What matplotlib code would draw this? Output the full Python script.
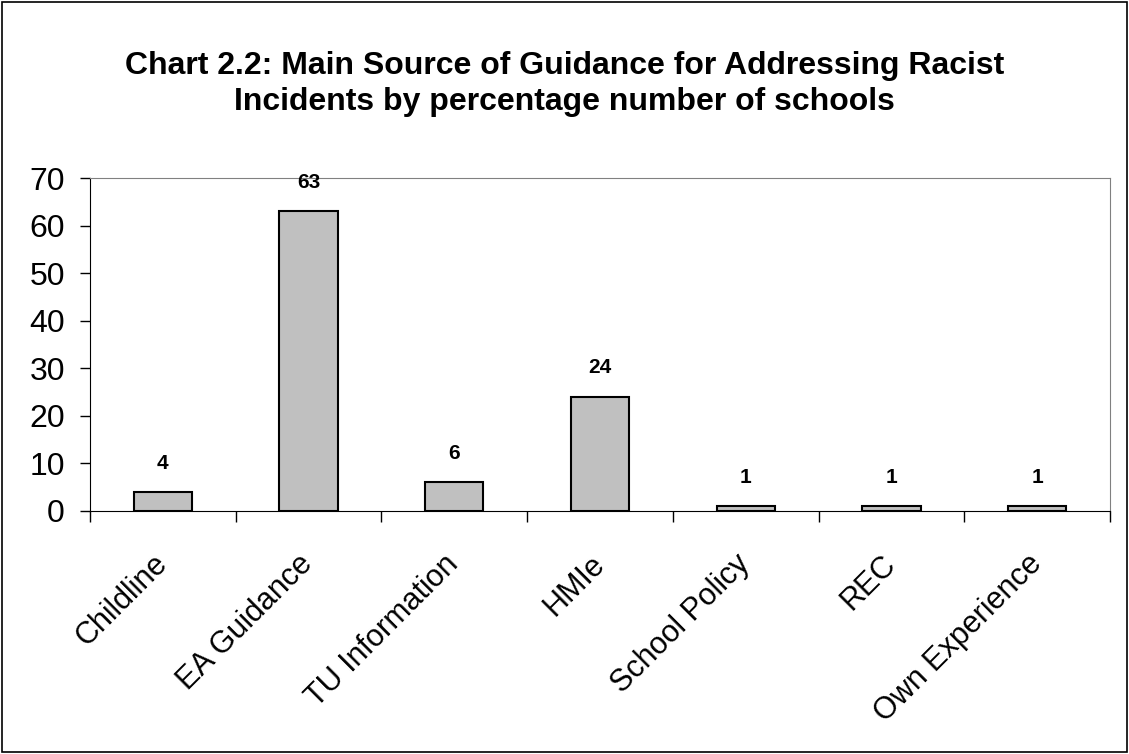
import matplotlib
matplotlib.use("Agg")
import numpy as np
import matplotlib.pyplot as plt
from matplotlib.patches import Rectangle

categories = ["Childline", "EA Guidance", "TU Information", "HMIe",
              "School Policy", "REC", "Own Experience"]
values = [4, 63, 6, 24, 1, 1, 1]
yticks = [0, 10, 20, 30, 40, 50, 60, 70]

plt.rcParams["font.family"] = ["Liberation Sans", "DejaVu Sans"]

fig = plt.figure(figsize=(11.29, 7.54), dpi=100)
fig.patches.append(Rectangle((0.002, 0.002), 0.996, 0.995, transform=fig.transFigure,
                             fill=False, edgecolor="black", linewidth=1.2))
ax = fig.add_axes([90 / 1129, 1 - 511 / 754, 1020 / 1129, 333 / 754])

x = np.arange(len(categories))
ax.bar(x, values, width=0.4, color="#c0c0c0", edgecolor="black", linewidth=1.5)
for xi, v in zip(x, values):
    ax.annotate(str(v), (xi, v), xytext=(0, 14), textcoords="offset points",
                ha="center", va="bottom", fontsize=15, fontweight="bold")

ax.set_xlim(-0.5, len(categories) - 0.5)
ax.set_ylim(0, 70)
ax.set_yticks(yticks)
ax.tick_params(axis="y", labelsize=23, length=7, width=1, direction="out", pad=11)
ax.set_xticks(np.arange(len(categories) + 1) - 0.5, minor=False)
ax.set_xticklabels([])
ax.set_xticks(x, minor=True)
ax.set_xticklabels(categories, minor=True, rotation=45, ha="right", va="center",
                   rotation_mode="anchor", fontsize=22)
ax.tick_params(axis="x", which="major", length=8, width=1)
ax.tick_params(axis="x", which="minor", length=0, pad=35)

for s in ["top", "right"]:
    ax.spines[s].set_color("#808080")
for s in ["left", "bottom"]:
    ax.spines[s].set_color("black")

fig.text(0.5, 1 - 84 / 754, "Chart 2.2: Main Source of Guidance for Addressing Racist\n"
         "Incidents by percentage number of schools",
         ha="center", va="center", fontsize=23, fontweight="bold", linespacing=1.25)

fig.savefig("out.png", dpi=100)
